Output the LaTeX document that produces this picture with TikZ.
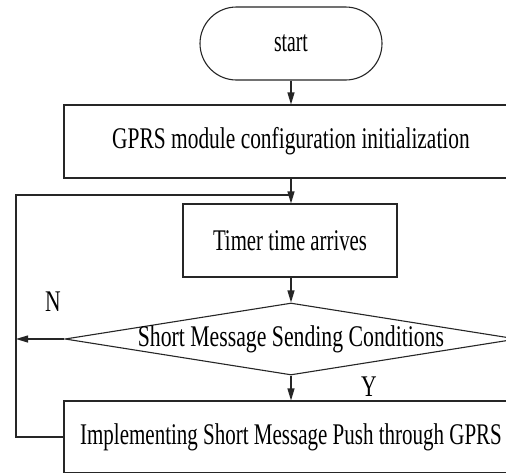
\documentclass[tikz,border=0pt]{standalone}
\usepackage{fontspec}
\setmainfont{Liberation Serif}
\usetikzlibrary{arrows.meta,shapes.geometric}
\newcommand\sqz[2]{\scalebox{#1}[1]{#2}}
\tikzset{
  base/.style={draw=black!85, line width=1.1pt, inner sep=0pt,
    font=\fontsize{30}{33}\selectfont, text=black},
  termbox/.style={base, rectangle, rounded corners=36.5pt, minimum width=182pt, minimum height=73pt},
  procbox/.style={base, rectangle, minimum height=73pt},
  decbox/.style={base, diamond, aspect=6.28, minimum width=452pt, minimum height=72pt},
  lbl/.style={font=\fontsize{30}{33}\selectfont, inner sep=0pt, text=black},
  arr/.style={draw=black!85, line width=1.1pt, -{Triangle[length=12pt,width=7pt]}},
  ln/.style={draw=black!85, line width=1.1pt},
}
\begin{document}
\begin{tikzpicture}[x=1pt,y=-1pt]
\useasboundingbox (0,0) rectangle (506,472);
\fill[white] (0,0) rectangle (506,472);
\clip (0,0) rectangle (506,472);
\node[termbox] (start) at (291,43.5) {\sqz{0.657}{start}};
\node[procbox, minimum width=454pt] (init) at (291,141.5)
  {\sqz{0.714}{GPRS module configuration initialization}\hspace{28pt}};
\node[procbox, minimum width=214pt] (timer) at (290,240.5) {\sqz{0.693}{Timer time arrives}};
\node[decbox] (cond) at (291,339) {\makebox[0pt]{\sqz{0.725}{Short Message Sending Conditions}}};
\node[procbox, minimum width=454pt, minimum height=72pt] (push) at (291,437)
  {\sqz{0.70}{Implementing Short Message Push through GPRS}};
\coordinate (join) at (291,195);
\coordinate (lx) at (16,0);
\node[lbl] (nlab) at (53,302) {\sqz{0.72}{N}};
\node[lbl] (ylab) at (369,387) {\sqz{0.72}{Y}};
\draw[arr] (start.south) -- (init.north);
\draw[arr] (init.south) -- (timer.north -| init.south);
\draw[arr] (timer.south -| init.south) -- (cond.north);
\draw[arr] (cond.south) -- (push.north);
\draw[arr] (cond.west) -- (cond.west -| lx);
\draw[ln] (push.west) -| (join -| lx) -- (join);
\end{tikzpicture}
\end{document}
